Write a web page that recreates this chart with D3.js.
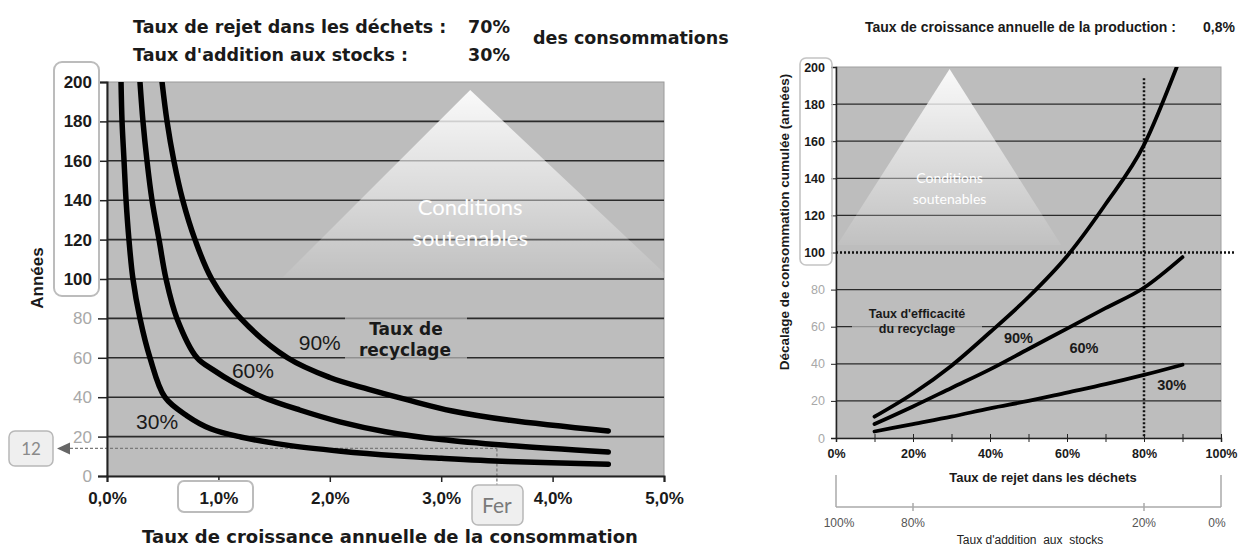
<!DOCTYPE html>
<html><head><meta charset="utf-8">
<script src="https://cdn.jsdelivr.net/npm/d3@7"></script>
<style>body{margin:0;background:#fff} svg{display:block}</style>
</head><body>
<svg id="c" width="1238" height="548"></svg>
<script>
// ---------- DATA ----------
const recyclingLabels = ["30%", "60%", "90%"];
// Left chart: years vs annual consumption growth rate (%)
const left30 = [[0.126,200],[0.135,180],[0.153,160],[0.171,140],[0.197,120],[0.233,100],[0.296,80],[0.386,60],[0.52,40],[0.72,30.5],[0.93,24],[1.2,19.8],[1.6,15.8],[2.1,12.6],[2.6,10.3],[3.0,9],[3.6,7.4],[4.5,6]];
const left60 = [[0.296,200],[0.323,180],[0.359,160],[0.404,140],[0.467,120],[0.53,100],[0.628,80],[0.808,60],[0.95,54],[1.15,47],[1.4,40],[1.73,33.5],[2.09,27.5],[2.5,22.5],[3.0,18.5],[3.6,15.5],[4.5,12.2]];
const left90 = [[0.494,200],[0.539,180],[0.60,160],[0.68,140],[0.79,120],[0.94,100],[1.2,80],[1.62,60],[2.0,50],[2.35,44],[2.7,38.6],[3.1,33],[3.6,28.4],[4.5,22.8]];
const leftXTicks = [0, 1, 2, 3, 4, 5];
const leftYTicks = [0, 20, 40, 60, 80, 100, 120, 140, 160, 180, 200];
const ferGrowth = 3.5, ferYearsLine = 14, ferYearsLabel = "12";
// Right chart: cumulative consumption shift (years) vs waste rate (%)
const right30 = [[10,3.5],[20,7.5],[30,11.5],[40,16],[50,20],[60,24.5],[70,29],[80,34],[90,39.5]];
const right60 = [[10,7.5],[20,17],[30,27],[40,37],[50,48],[60,59],[70,70],[80,81],[90,97.5]];
const right90 = [[10,11.5],[20,24],[30,39],[40,57],[50,76],[60,98],[70,126],[80,158],[88.5,200]];
const rightXTicks = [0,10,20,30,40,50,60,70,80,90,100];
const rightYTicks = [0,20,40,60,80,100,120,140,160,180,200];
const stockTicks = [100, 80, 20, 0];
const wasteRef = 80, yearsRef = 100;

// ---------- DRAW ----------
const svg = d3.select("#c");
const defs = svg.append("defs");
const AR = "'Liberation Sans', Arial, sans-serif";
const DV = "'DejaVu Sans', Verdana, sans-serif";
const CAL = "Lato, 'Open Sans', sans-serif";

function grad(id, a0, a1) {
  const g = defs.append("linearGradient").attr("id", id).attr("x1",0).attr("y1",0).attr("x2",0).attr("y2",1);
  g.append("stop").attr("offset","0%").attr("stop-color","#fff").attr("stop-opacity",a0);
  g.append("stop").attr("offset","100%").attr("stop-color","#fff").attr("stop-opacity",a1);
}
grad("triL", 0.92, 0.06);
grad("triR", 0.92, 0.06);

// ===== LEFT CHART =====
const xL = d3.scaleLinear().domain([0,5]).range([107,664]);
const yL = d3.scaleLinear().domain([0,200]).range([476,82]);
defs.append("clipPath").attr("id","clipL").append("rect")
  .attr("x", xL(0)).attr("y", yL(200)).attr("width", xL(5)-xL(0)).attr("height", yL(0)-yL(200));

const L = svg.append("g");
L.append("rect").attr("x", xL(0)).attr("y", yL(200)).attr("width", xL(5)-xL(0)).attr("height", yL(0)-yL(200))
  .attr("fill","#bdbdbd").attr("stroke","#9a9a9a").attr("stroke-width",1);
L.selectAll(".gl").data(leftYTicks.filter(d => d>0 && d<200)).join("line")
  .attr("x1", xL(0)).attr("x2", xL(5)).attr("y1", d=>yL(d)).attr("y2", d=>yL(d))
  .attr("stroke","#2b2b2b").attr("stroke-width",1.6);

// triangle
L.append("path").attr("d", `M${xL(3.26)},90 L${xL(5.04)},277 L${xL(1.58)},277 Z`)
  .attr("fill","url(#triL)");
L.append("text").attr("x", xL(3.26)).attr("y", 215).attr("text-anchor","middle")
  .attr("font-family", CAL).attr("font-size", 22).attr("fill","#fff").text("Conditions");
L.append("text").attr("x", xL(3.26)).attr("y", 246).attr("text-anchor","middle")
  .attr("font-family", CAL).attr("font-size", 22).attr("fill","#fff").text("soutenables");

// label box Taux de recyclage (softens gridlines behind)
L.append("rect").attr("x",345).attr("y",312).attr("width",122).attr("height",50).attr("fill","#bdbdbd").attr("opacity",0.7);
L.append("text").attr("x",406).attr("y",335).attr("text-anchor","middle").attr("font-family",DV).attr("font-weight","bold").attr("font-size",17).attr("fill","#1a1a1a").text("Taux de");
L.append("text").attr("x",405).attr("y",356).attr("text-anchor","middle").attr("font-family",DV).attr("font-weight","bold").attr("font-size",17).attr("fill","#1a1a1a").text("recyclage");

// Fer annotation dashed lines
L.append("line").attr("x1", 70).attr("x2", xL(ferGrowth)).attr("y1", yL(ferYearsLine)).attr("y2", yL(ferYearsLine))
  .attr("stroke","#7a7a7a").attr("stroke-width",1.3).attr("stroke-dasharray","3,2");
L.append("line").attr("x1", xL(ferGrowth)).attr("x2", xL(ferGrowth)).attr("y1", yL(ferYearsLine)).attr("y2", 486)
  .attr("stroke","#7a7a7a").attr("stroke-width",1.3).attr("stroke-dasharray","3,2");

// axes
const ayL = L.append("g").attr("transform", `translate(${xL(0)},0)`)
  .call(d3.axisLeft(yL).tickValues(leftYTicks).tickSize(9).tickPadding(6).tickFormat(d3.format("d")));
ayL.select(".domain").attr("stroke","#222").attr("stroke-width",2);
ayL.selectAll(".tick line").attr("stroke","#222").attr("stroke-width",1.5);
ayL.selectAll(".tick text").attr("font-family",AR).attr("font-size",17)
  .attr("font-weight", d => d>=100 ? "bold" : "normal").attr("fill", d => d>=100 ? "#1a1a1a" : "#a8a8a8");

const axL = L.append("g").attr("transform", `translate(0,${yL(0)})`)
  .call(d3.axisBottom(xL).tickValues(leftXTicks).tickSize(6).tickPadding(10).tickFormat(d => d.toFixed(1).replace(".",",") + "%"));
axL.select(".domain").attr("stroke","#222").attr("stroke-width",2);
axL.selectAll(".tick line").attr("stroke","#222").attr("stroke-width",1.5);
axL.selectAll(".tick text").attr("font-family",AR).attr("font-size",17).attr("font-weight","bold").attr("fill","#1a1a1a");

// curves
const lineL = d3.line().x(d=>xL(d[0])).y(d=>yL(d[1])).curve(d3.curveCatmullRom.alpha(0.5));
L.append("g").attr("clip-path","url(#clipL)").selectAll("path").data([left30,left60,left90]).join("path")
  .attr("d", lineL).attr("fill","none").attr("stroke","#000").attr("stroke-width",5.5).attr("stroke-linecap","round").attr("stroke-linejoin","round");

// curve labels
const leftLabelPos = [[0.45,24],[1.31,50],[1.91,64]];
L.selectAll(".cl").data(recyclingLabels).join("text")
  .attr("x",(d,i)=>xL(leftLabelPos[i][0])).attr("y",(d,i)=>yL(leftLabelPos[i][1]))
  .attr("text-anchor","middle").attr("font-family",AR).attr("font-size",21).attr("fill","#1a1a1a").text(d=>d);

// y label box, 12 box, fer box, 1,0% box
L.append("rect").attr("x",54).attr("y",62).attr("width",45).attr("height",234).attr("rx",8)
  .attr("fill","none").attr("stroke","#bcbcbc").attr("stroke-width",2);
L.append("rect").attr("x",9).attr("y",431).attr("width",44).attr("height",35).attr("rx",6)
  .attr("fill","#efefef").attr("stroke","#b8b8b8").attr("stroke-width",1.5);
L.append("text").attr("x",31).attr("y",455).attr("text-anchor","middle").attr("font-family",CAL).attr("font-size",17).attr("fill","#8a8a8a").text(ferYearsLabel);
L.append("path").attr("d", `M57,${yL(ferYearsLine)} L70,${yL(ferYearsLine)-6} L70,${yL(ferYearsLine)+6} Z`).attr("fill","#666");
L.append("rect").attr("x",472).attr("y",485).attr("width",51).attr("height",40).attr("rx",6)
  .attr("fill","#efefef").attr("stroke","#b8b8b8").attr("stroke-width",1.5);
L.append("text").attr("x",xL(ferGrowth)).attr("y",513).attr("text-anchor","middle").attr("font-family",CAL).attr("font-size",21).attr("fill","#7a7a7a").text("Fer");
L.append("rect").attr("x",178).attr("y",481).attr("width",75).attr("height",31).attr("rx",6)
  .attr("fill","none").attr("stroke","#bcbcbc").attr("stroke-width",2);

// titles
L.append("text").attr("transform","translate(43,278) rotate(-90)").attr("text-anchor","middle")
  .attr("font-family",AR).attr("font-weight","bold").attr("font-size",17).attr("fill","#1a1a1a").text("Années");
L.append("text").attr("x",390).attr("y",543).attr("text-anchor","middle").attr("font-family",DV).attr("font-weight","bold").attr("font-size",18).attr("fill","#1a1a1a")
  .text("Taux de croissance annuelle de la consommation");
L.append("text").attr("x",133).attr("y",33).attr("font-family",DV).attr("font-weight","bold").attr("font-size",17.5).attr("fill","#1a1a1a").text("Taux de rejet dans les déchets :");
L.append("text").attr("x",133).attr("y",61).attr("font-family",DV).attr("font-weight","bold").attr("font-size",17.5).attr("fill","#1a1a1a").text("Taux d'addition aux stocks :");
L.append("text").attr("x",510).attr("y",33).attr("text-anchor","end").attr("font-family",DV).attr("font-weight","bold").attr("font-size",17.5).attr("fill","#1a1a1a").text("70%");
L.append("text").attr("x",510).attr("y",61).attr("text-anchor","end").attr("font-family",DV).attr("font-weight","bold").attr("font-size",17.5).attr("fill","#1a1a1a").text("30%");
L.append("text").attr("x",533).attr("y",44).attr("font-family",DV).attr("font-weight","bold").attr("font-size",17.5).attr("fill","#1a1a1a").text("des consommations");

// ===== RIGHT CHART =====
const xR = d3.scaleLinear().domain([0,100]).range([836,1221]);
const yR = d3.scaleLinear().domain([0,200]).range([438,67]);
const xS = d3.scaleLinear().domain([100,0]).range([836,1221]);
defs.append("clipPath").attr("id","clipR").append("rect")
  .attr("x", xR(0)).attr("y", yR(200)).attr("width", xR(100)-xR(0)).attr("height", yR(0)-yR(200));

const R = svg.append("g");
R.append("rect").attr("x", xR(0)).attr("y", yR(200)).attr("width", xR(100)-xR(0)).attr("height", yR(0)-yR(200))
  .attr("fill","#bdbdbd").attr("stroke","#a0a0a0").attr("stroke-width",1);
R.selectAll(".gl").data(rightYTicks.filter(d => d>0 && d<200 && d!==yearsRef)).join("line")
  .attr("x1", xR(0)).attr("x2", xR(100)).attr("y1", d=>yR(d)).attr("y2", d=>yR(d))
  .attr("stroke","#2b2b2b").attr("stroke-width",1.3);

// triangle
R.append("path").attr("d", `M${xR(29.5)},69 L${xR(58.5)},245 L${xR(0.3)},245 Z`).attr("fill","url(#triR)");
R.append("text").attr("x", xR(29.5)).attr("y", 183).attr("text-anchor","middle")
  .attr("font-family", CAL).attr("font-size", 14).attr("fill","#fff").text("Conditions");
R.append("text").attr("x", xR(29.5)).attr("y", 204).attr("text-anchor","middle")
  .attr("font-family", CAL).attr("font-size", 14).attr("fill","#fff").text("soutenables");

// label box
R.append("rect").attr("x",852).attr("y",302).attr("width",130).attr("height",36).attr("fill","#bdbdbd").attr("opacity",0.7);
R.append("text").attr("x",917).attr("y",318).attr("text-anchor","middle").attr("font-family",AR).attr("font-weight","bold").attr("font-size",12.5).attr("fill","#1a1a1a").text("Taux d'efficacité");
R.append("text").attr("x",917).attr("y",333).attr("text-anchor","middle").attr("font-family",AR).attr("font-weight","bold").attr("font-size",12.5).attr("fill","#1a1a1a").text("du recyclage");

// axes
const ayR = R.append("g").attr("transform", `translate(${xR(0)},0)`)
  .call(d3.axisLeft(yR).tickValues(rightYTicks).tickSize(5).tickPadding(6).tickFormat(d3.format("d")));
ayR.select(".domain").attr("stroke","#222").attr("stroke-width",1.5);
ayR.selectAll(".tick line").attr("stroke","#222");
ayR.selectAll(".tick text").attr("font-family",AR).attr("font-size",12.5)
  .attr("font-weight", d => d>=100 ? "bold" : "normal").attr("fill", d => d>=100 ? "#1a1a1a" : "#a8a8a8");

const axR = R.append("g").attr("transform", `translate(0,${yR(0)})`)
  .call(d3.axisBottom(xR).tickValues(rightXTicks).tickSize(4).tickPadding(7).tickFormat(d => d%20===0 ? d+"%" : ""));
axR.select(".domain").attr("stroke","#222").attr("stroke-width",1.5);
axR.selectAll(".tick line").attr("stroke","#222").attr("y1",-4);
axR.selectAll(".tick text").attr("font-family",AR).attr("font-size",12.5).attr("font-weight","bold").attr("fill","#1a1a1a");

// reference dotted lines
R.append("line").attr("x1", xR(0)).attr("x2", 1234).attr("y1", yR(yearsRef)).attr("y2", yR(yearsRef))
  .attr("stroke","#111").attr("stroke-width",2.5).attr("stroke-dasharray","2,2");
R.append("line").attr("x1", xR(wasteRef)).attr("x2", xR(wasteRef)).attr("y1", yR(194)).attr("y2", yR(0))
  .attr("stroke","#111").attr("stroke-width",2.5).attr("stroke-dasharray","2,2");

// curves
const lineR = d3.line().x(d=>xR(d[0])).y(d=>yR(d[1])).curve(d3.curveMonotoneX);
R.append("g").attr("clip-path","url(#clipR)").selectAll("path").data([right30,right60,right90]).join("path")
  .attr("d", lineR).attr("fill","none").attr("stroke","#000").attr("stroke-width",3.8).attr("stroke-linecap","round");

const rightLabelPos = [[87.2,26],[64.4,46],[47.4,51]];
R.selectAll(".cl").data(recyclingLabels).join("text")
  .attr("x",(d,i)=>xR(rightLabelPos[i][0])).attr("y",(d,i)=>yR(rightLabelPos[i][1]))
  .attr("text-anchor","middle").attr("font-family",AR).attr("font-weight","bold").attr("font-size",14.5).attr("fill","#1a1a1a").text(d=>d);

// y label box
R.append("rect").attr("x",800).attr("y",58).attr("width",32).attr("height",207).attr("rx",6)
  .attr("fill","none").attr("stroke","#c4c4c4").attr("stroke-width",1.6);

// titles
R.append("text").attr("transform","translate(789,222) rotate(-90)").attr("text-anchor","middle")
  .attr("font-family",AR).attr("font-weight","bold").attr("font-size",13.5).attr("fill","#1a1a1a").text("Décalage de consommation cumulée (années)");
R.append("text").attr("x",1043).attr("y",482).attr("text-anchor","middle").attr("font-family",AR).attr("font-weight","bold").attr("font-size",13).attr("fill","#1a1a1a").text("Taux de rejet dans les déchets");
R.append("text").attr("x",865).attr("y",32).attr("font-family",AR).attr("font-weight","bold").attr("font-size",14).attr("fill","#1a1a1a").text("Taux de croissance annuelle de la production :");
R.append("text").attr("x",1203).attr("y",32).attr("font-family",AR).attr("font-weight","bold").attr("font-size",14).attr("fill","#1a1a1a").text("0,8%");

// secondary axis: stock addition rate
const S = R.append("g");
S.append("line").attr("x1", xS(100)).attr("x2", xS(0)).attr("y1",507).attr("y2",507).attr("stroke","#aaa").attr("stroke-width",1.5);
S.selectAll(".st").data([100,0]).join("line").attr("x1",d=>xS(d)).attr("x2",d=>xS(d)).attr("y1",475).attr("y2",507).attr("stroke","#aaa").attr("stroke-width",1.5);
S.selectAll(".st2").data(stockTicks.filter(d=>d!==100 && d!==0)).join("line").attr("x1",d=>xS(d)).attr("x2",d=>xS(d)).attr("y1",503).attr("y2",511).attr("stroke","#aaa").attr("stroke-width",1.5);
S.selectAll(".sl").data(stockTicks).join("text").attr("x",d=>xS(d) + (d===100?3:(d===0?-4:0))).attr("y",527).attr("text-anchor","middle")
  .attr("font-family",AR).attr("font-size",12).attr("fill","#555").text(d=>d+"%");
S.append("text").attr("x",1030).attr("y",544).attr("text-anchor","middle").attr("font-family",AR).attr("font-size",12).attr("fill","#222")
  .attr("xml:space","preserve").text("Taux d'addition  aux  stocks");
</script>
</body></html>
